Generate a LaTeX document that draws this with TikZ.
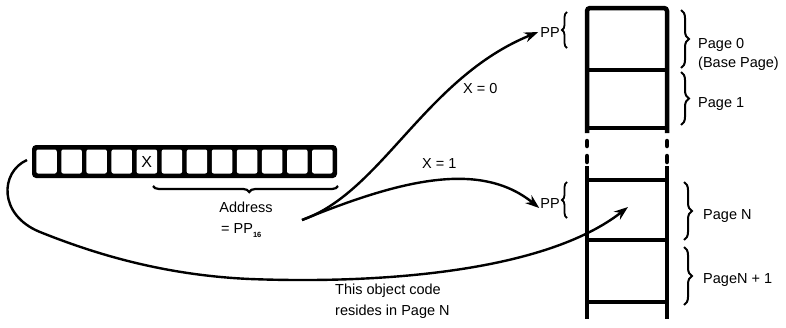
\documentclass[tikz,border=0pt]{standalone}
\usepackage{fontspec}
\setmainfont{Liberation Sans}
\usetikzlibrary{decorations.pathreplacing,arrows.meta}
\begin{document}
\begin{tikzpicture}[x=1pt,y=-1pt,
  lbl/.style={font=\fontsize{14.5}{16}\selectfont, inner sep=0pt},
  arr/.style={line width=2.4pt,-{Stealth[length=14pt,width=10pt]}},
  bigbrace/.style={decorate,decoration={brace,amplitude=8pt},line width=2pt},
  smallbrace/.style={decorate,decoration={brace,amplitude=5pt},line width=1.8pt},
  memline/.style={line width=4.5pt},
  cell/.style={fill=white,rounded corners=2pt,minimum width=20.5pt,minimum height=24pt,inner sep=0pt}]
\useasboundingbox[fill=white] (0,0) rectangle (786,327);

% register
\node[fill=black,rounded corners=4pt,minimum width=305pt,minimum height=33pt,inner sep=0pt] (reg) at (184.5,161.5) {};
\foreach \i in {0,...,11} {
  \node[cell] (c\i) at ({46.5+\i*25.08},161.5) {};
}
\node[lbl,font=\fontsize{16}{18}\selectfont] (xl) at (c4) {X};

% brace under address bits
\draw[decorate,decoration={brace,mirror,amplitude=6pt,aspect=0.52},line width=2.2pt] (153,186) -- (338,186);
\node[lbl,anchor=base] (addr) at (246,212) {Address};
\node[lbl,anchor=base west] (pp16) at (221,233) {= PP\raisebox{-4pt}{\fontsize{7.5}{8}\selectfont\bfseries 16}};

% memory column, upper part
\draw[memline,rounded corners=3pt] (587,133) -- (587,8) -- (667,8) -- (667,133);
\draw[memline] (587,70) -- (667,70);
\draw[memline] (587,128) -- (667,128);
\foreach \xx in {587,667} {
  \draw[line width=4.5pt,line cap=round] (\xx,141) -- (\xx,146);
  \draw[line width=4.5pt,line cap=round] (\xx,156) -- (\xx,162);
}
% memory column, lower part
\draw[memline] (587,166) -- (587,319);
\draw[memline] (667,166) -- (667,319);
\draw[memline] (587,180) -- (667,180);
\draw[memline] (587,240) -- (667,240);
\draw[memline] (587,302) -- (667,302);

\node (pg0) at (627,39) {};
\node (pg1) at (627,99) {};
\node (pgN) at (627,210) {};
\node (pgN1) at (627,271) {};
\coordinate (inN) at (628,207);

% right braces
\draw[bigbrace] (681,10) -- (681,68);
\draw[bigbrace] (681,72) -- (681,125);
\draw[bigbrace] (684,182) -- (684,240);
\draw[bigbrace] (684,247) -- (684,305);
\node[lbl,anchor=base west] (l0) at (698,48) {Page 0};
\node[lbl,anchor=base west] (l0b) at (698,67) {(Base Page)};
\node[lbl,anchor=base west] (l1) at (698,107) {Page 1};
\node[lbl,anchor=base west] (lN) at (703,219) {Page N};
\node[lbl,anchor=base west] (lN1) at (703,283) {PageN + 1};

% PP braces
\draw[smallbrace] (567,48) -- (567,12);
\draw[smallbrace] (567,218) -- (567,182);
\node[lbl,anchor=base east] (ppA) at (560,37) {PP};
\node[lbl,anchor=base east] (ppB) at (560,208) {PP};

% arrows
\coordinate (src) at (302,220);
\draw[arr] (src) .. controls (382,192) and (425,78) .. ([xshift=-2pt]ppA.west);
\draw[arr] (src) .. controls (400,180) and (480,160) .. ([xshift=-1pt,yshift=-5pt]ppB.west);
\node[lbl,anchor=base west] (x0) at (463,93) {X = 0};
\node[lbl,anchor=base west] (x1) at (422,168) {X = 1};

% long arrow
\coordinate (lstart) at (27,160);
\draw[arr] (lstart) .. controls (0,172) and (-2,215) .. (40,232)
  .. controls (90,252) and (160,275) .. (250,279)
  .. controls (380,284) and (545,272) .. (inN);
\node[lbl,anchor=base west] (oc1) at (335,294) {This object code};
\node[lbl,anchor=base west] (oc2) at (335,315) {resides in Page N};
\end{tikzpicture}
\end{document}
